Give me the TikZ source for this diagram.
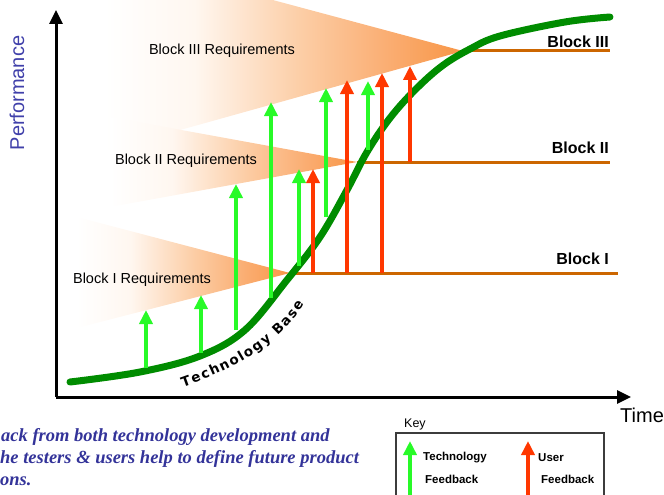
\documentclass[tikz,border=0pt]{standalone}
\usepackage{fontspec}
\setmainfont{Liberation Sans}
\newfontfamily\notesfont{Liberation Serif}
\newfontfamily\heavyfont{DejaVu Sans}
\usetikzlibrary{arrows.meta,decorations.text}

\definecolor{funnel}{RGB}{248,150,70}
\definecolor{funnelA}{RGB}{255,247,240}
\definecolor{funnelB}{RGB}{252,205,165}
\definecolor{funnelC}{RGB}{250,172,112}
\definecolor{blockline}{RGB}{204,102,0}
\definecolor{curvegreen}{RGB}{0,140,0}
\definecolor{techgreen}{RGB}{40,250,40}
\definecolor{userred}{RGB}{255,55,0}
\definecolor{perfblue}{RGB}{64,64,170}
\definecolor{notesblue}{RGB}{51,51,153}
\definecolor{keygrey}{RGB}{60,60,60}

\pgfdeclarehorizontalshading{funnelshade}{100bp}{color(0bp)=(white); color(25bp)=(white); color(37.5bp)=(funnelA); color(52.5bp)=(funnelB); color(65bp)=(funnelC); color(75bp)=(funnel); color(100bp)=(funnel)}

\begin{document}
\begin{tikzpicture}[x=1pt,y=-1pt,
  axisline/.style={line width=3pt,black,-{Triangle[width=13pt,length=14pt]}},
  funnelfill/.style={shading=funnelshade},
  bline/.style={line width=3pt,blockline},
  techcurve/.style={line width=7pt,curvegreen,line cap=round},
  garrow/.style={line width=3.5pt,techgreen,-{Triangle[width=13pt,length=14pt]}},
  rarrow/.style={line width=3.5pt,userred,-{Triangle[width=13pt,length=14pt]}},
  reqlabel/.style={font=\fontsize{14.5}{17}\selectfont,inner sep=0pt},
  blocklabel/.style={font=\fontsize{16}{18}\selectfont\bfseries,inner sep=0pt,anchor=east},
  keytext/.style={font=\fontsize{11.5}{13}\selectfont\bfseries,inner sep=0pt,anchor=west},
  notes/.style={font=\notesfont\fontsize{18.5}{20}\selectfont\bfseries\itshape,text=notesblue,inner sep=0pt,anchor=base west}
]
\useasboundingbox (0,0) rectangle (664,495);
\clip (0,0) rectangle (664,495);

% funnels
\coordinate (apexIII) at (463,51);
\coordinate (apexII) at (357,162);
\coordinate (apexI) at (290,273);
\shade[funnelfill] (105,-45) -- (apexIII) -- (105,151) -- cycle;
\shade[funnelfill] (110,117) -- (apexII) -- (110,207) -- cycle;
\shade[funnelfill] (77,217) -- (apexI) -- (77,328) -- cycle;

% block lines
\coordinate (endIII) at (610,51);
\coordinate (endII) at (610,162);
\coordinate (endI) at (618,273);
\draw[bline] (apexIII) -- (endIII);
\draw[bline] (apexII) -- (endII);
\draw[bline] (apexI) -- (endI);

% axes
\coordinate (origin) at (56,397);
\coordinate (ytip) at (56,10);
\coordinate (xtip) at (631,397);
\draw[axisline] (origin) -- (ytip);
\draw[axisline] (origin) -- (xtip);

% technology curve
\draw[techcurve] plot[smooth,tension=0.6] coordinates {(70,382) (140,372) (200,356) (245,330) (287,280) (320,237) (347,190) (367,152) (390,118) (415,90) (442,66) (470,49) (500,36) (565,22) (610,17)};

\path[decorate,decoration={text along path,text align=fit to path,
  text={|\heavyfont\fontsize{13.5}{15}\selectfont\bfseries|Technology Base}}]
  (183,387) .. controls (232,370) and (278,345) .. (304,304);

% feedback arrows
\coordinate (g1b) at (146,368); \coordinate (g1t) at (146,310);
\coordinate (g2b) at (201,353); \coordinate (g2t) at (201,295);
\coordinate (g3b) at (236,330); \coordinate (g3t) at (236,184);
\coordinate (g4b) at (271,298); \coordinate (g4t) at (271,102);
\coordinate (g5b) at (299,266); \coordinate (g5t) at (299,169);
\coordinate (r1b) at (313,273); \coordinate (r1t) at (313,169);
\coordinate (g6b) at (326,217); \coordinate (g6t) at (326,88);
\coordinate (r2b) at (347,273); \coordinate (r2t) at (347,80);
\coordinate (g7b) at (368,150); \coordinate (g7t) at (368,81);
\coordinate (r3b) at (382,273); \coordinate (r3t) at (382,73);
\coordinate (r4b) at (410,162); \coordinate (r4t) at (410,66);
\draw[garrow] (g1b) -- (g1t);
\draw[garrow] (g2b) -- (g2t);
\draw[garrow] (g3b) -- (g3t);
\draw[garrow] (g4b) -- (g4t);
\draw[garrow] (g5b) -- (g5t);
\draw[rarrow] (r1b) -- (r1t);
\draw[garrow] (g6b) -- (g6t);
\draw[rarrow] (r2b) -- (r2t);
\draw[garrow] (g7b) -- (g7t);
\draw[rarrow] (r3b) -- (r3t);
\draw[rarrow] (r4b) -- (r4t);

% labels
\node[reqlabel] (reqIII) at (222,51) {Block III Requirements};
\node[reqlabel] (reqII) at (186,161) {Block II Requirements};
\node[reqlabel] (reqI) at (142,280) {Block I Requirements};
\node[blocklabel] (lblIII) at (609,42) {Block III};
\node[blocklabel] (lblII) at (609,148) {Block II};
\node[blocklabel] (lblI) at (609,259) {Block I};
\node[rotate=90,text=perfblue,font=\fontsize{20}{22}\selectfont,inner sep=0pt] (perf) at (17,93) {Performance};
\node[font=\fontsize{20}{22}\selectfont,inner sep=0pt,anchor=west] (time) at (620,415) {Time};

% notes
\node[notes] (note1) at (1,441) {ack from both technology development and};
\node[notes] (note2) at (0,463) {he testers \& users help to define future product};
\node[notes] (note3) at (0,485) {ons.};

% key
\node[font=\fontsize{12.5}{14}\selectfont,inner sep=0pt,anchor=west] (key) at (404,424) {Key};
\draw[line width=1.3pt,keygrey] (396,433) rectangle (604,510);
\coordinate (kgb) at (410,500); \coordinate (kgt) at (410,441);
\coordinate (krb) at (528,500); \coordinate (krt) at (528,441);
\draw[garrow] (kgb) -- (kgt);
\draw[rarrow] (krb) -- (krt);
\node[keytext] (kt1) at (423,458) {Technology};
\node[keytext] (kt2) at (425,479) {Feedback};
\node[keytext] (ku1) at (538,458) {User};
\node[keytext] (ku2) at (541,479) {Feedback};
\end{tikzpicture}
\end{document}
